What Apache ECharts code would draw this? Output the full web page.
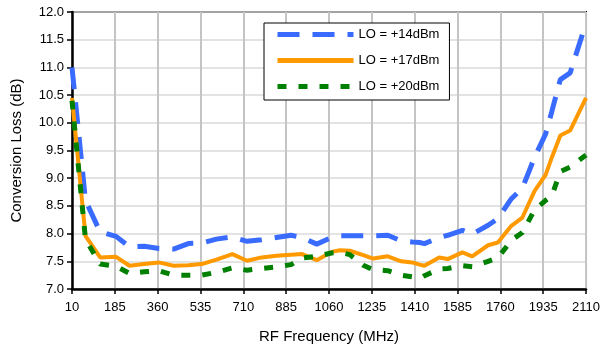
<!DOCTYPE html>
<html>
<head>
<meta charset="utf-8">
<script src="https://cdn.jsdelivr.net/npm/echarts@6/dist/echarts.min.js"></script>
<style>
  html, body { margin: 0; padding: 0; background: #fff; }
  #chart { width: 603px; height: 349px; }
</style>
</head>
<body>
<div id="chart"></div>
<script>
// RF frequency (MHz) of each measured point
const freq = [10, 65, 125, 190, 245, 305, 365, 425, 485, 540, 600, 665, 725, 785, 845, 905, 950, 1010,
  1070, 1105, 1145, 1200, 1240, 1300, 1355, 1400, 1430, 1450, 1510, 1545, 1605, 1645, 1710, 1750,
  1805, 1850, 1900, 1945, 1970, 2005, 2045, 2110];

// conversion loss (dB) for each LO drive level
const lo14 = [11.0, 8.6, 8.03, 7.95, 7.76, 7.77, 7.73, 7.72, 7.82, 7.83, 7.90, 7.94, 7.86, 7.89, 7.93, 7.97, 7.93, 7.81,
  7.93, 7.96, 7.96, 7.96, 7.96, 7.97, 7.87, 7.85, 7.84, 7.82, 7.93, 7.97, 8.06, 7.99, 8.15, 8.27,
  8.63, 8.82, 9.38, 9.80, 10.2, 10.78, 10.90, 11.80];
const lo17 = [10.45, 7.96, 7.57, 7.58, 7.42, 7.45, 7.48, 7.42, 7.43, 7.45, 7.53, 7.63, 7.51, 7.57, 7.60, 7.62, 7.63, 7.52,
  7.67, 7.70, 7.69, 7.61, 7.55, 7.59, 7.50, 7.48, 7.44, 7.42, 7.57, 7.54, 7.66, 7.59, 7.79, 7.84,
  8.14, 8.29, 8.77, 9.06, 9.37, 9.77, 9.86, 10.45];
const lo20 = [10.40, 7.90, 7.45, 7.41, 7.28, 7.31, 7.33, 7.25, 7.25, 7.25, 7.30, 7.38, 7.34, 7.37, 7.40, 7.44, 7.56, 7.59,
  7.65, 7.66, 7.62, 7.43, 7.35, 7.33, 7.25, 7.22, 7.19, 7.24, 7.36, 7.37, 7.42, 7.40, 7.50, 7.56,
  7.88, 8.02, 8.43, 8.60, 8.68, 9.12, 9.20, 9.42];

const seriesNames = ["LO = +14dBm", "LO = +17dBm", "LO = +20dBm"];

// x axis runs 10..2110 with ticks every 175, so the scale is offset by 10 MHz
// (ticks are counted from a multiple of the interval)
const FREQ_OFFSET = 10;
const toPoints = vals => freq.map((f, i) => [f - FREQ_OFFSET, vals[i]]);

const font = "'Liberation Sans', Arial, sans-serif";

const chart = echarts.init(document.getElementById("chart"));
chart.setOption({
  animation: false,
  textStyle: { fontFamily: font },
  grid: {
    left: 72, right: 14, top: 12, bottom: 59,
    show: true, borderColor: "#000", borderWidth: 2, backgroundColor: "#fff"
  },
  legend: {
    orient: "vertical",
    left: 264, top: 23,
    backgroundColor: "#fff",
    borderColor: "#000", borderWidth: 1, borderRadius: 0,
    padding: [5, 10, 7, 11],
    itemWidth: 76, itemHeight: 14, itemGap: 13,
    itemStyle: { opacity: 0 }, // line only, no marker dot
    lineStyle: { width: 5 },
    textStyle: { fontSize: 13, color: "#000", fontFamily: font },
    data: seriesNames
  },
  xAxis: {
    type: "value",
    min: 0, max: 2100, interval: 175,
    name: "RF Frequency (MHz)",
    nameLocation: "middle", nameGap: 40,
    nameTextStyle: { fontSize: 15, color: "#000", fontFamily: font },
    axisLine: { lineStyle: { color: "#000", width: 2.5 } },
    axisTick: { show: true, length: 5, lineStyle: { color: "#000", width: 1.5 } },
    axisLabel: {
      margin: 12, fontSize: 13, color: "#000", fontFamily: font,
      formatter: v => String(v + FREQ_OFFSET)
    },
    splitLine: { show: true, lineStyle: { color: "#c4c4c4", width: 2 } }
  },
  yAxis: {
    type: "value",
    min: 7, max: 12, interval: 0.5,
    name: "Conversion Loss (dB)",
    nameLocation: "middle", nameGap: 48,
    nameTextStyle: { fontSize: 15, color: "#000", fontFamily: font },
    axisLine: { show: true, lineStyle: { color: "#000", width: 2.5 } },
    axisTick: { show: true, length: 5, lineStyle: { color: "#000", width: 1.5 } },
    axisLabel: {
      margin: 8, fontSize: 13, color: "#000", fontFamily: font,
      formatter: v => v.toFixed(1)
    },
    splitLine: { show: true, lineStyle: { color: "#dadada", width: 1.5 } }
  },
  series: [
    {
      name: seriesNames[0], type: "line", data: toPoints(lo14),
      showSymbol: false, symbol: "none",
      lineStyle: { color: "#3a6bff", width: 5, type: [22, 13], cap: "butt" },
      itemStyle: { color: "#3a6bff" }
    },
    {
      name: seriesNames[1], type: "line", data: toPoints(lo17),
      showSymbol: false, symbol: "none",
      lineStyle: { color: "#ff9900", width: 4 },
      itemStyle: { color: "#ff9900" }
    },
    {
      name: seriesNames[2], type: "line", data: toPoints(lo20),
      showSymbol: false, symbol: "none",
      lineStyle: { color: "#008000", width: 5, type: [9, 12], cap: "butt" },
      itemStyle: { color: "#008000" }
    }
  ]
});

window.addEventListener("resize", () => chart.resize());
</script>
</body>
</html>
